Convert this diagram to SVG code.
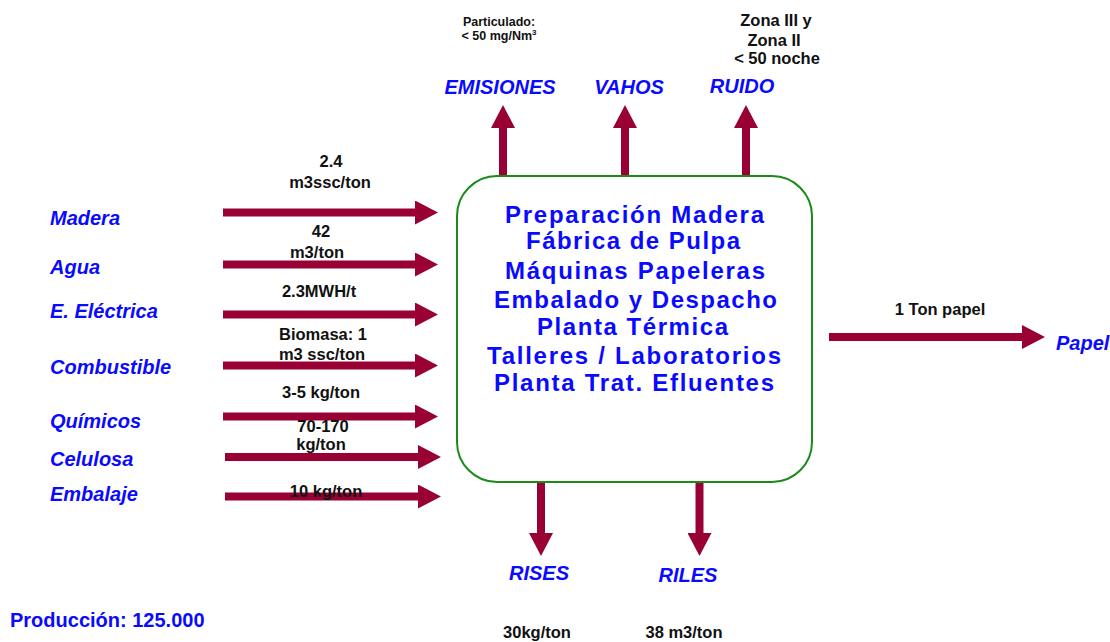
<svg xmlns="http://www.w3.org/2000/svg" width="1110" height="642" viewBox="0 0 1110 642">
<style>
.lbl{font-family:"Liberation Sans",Arial,sans-serif;font-weight:bold;font-style:italic;font-size:20px;fill:#0a0aff}
.val{font-family:"Liberation Sans",Arial,sans-serif;font-weight:bold;font-size:16.5px;fill:#111}
.box{font-family:"Liberation Sans",Arial,sans-serif;font-weight:bold;font-size:24px;fill:#0a0aff}
.prod{font-family:"Liberation Sans",Arial,sans-serif;font-weight:bold;font-size:20px;fill:#0a0aff}
.small{font-family:"Liberation Sans",Arial,sans-serif;font-weight:bold;font-size:12.5px;fill:#111}
.arr{stroke:#990033;stroke-width:8;fill:none;marker-end:url(#head)}
</style>
<defs>
<marker id="head" markerUnits="userSpaceOnUse" markerWidth="23" markerHeight="24" refX="0" refY="12" orient="auto" viewBox="0 0 23 24">
<path d="M0,0 L23,12 L0,24 z" fill="#990033"/>
</marker>
</defs>
<rect width="1110" height="642" fill="#ffffff"/>

<g id="connectors">
<line class="arr" x1="223" y1="212.5" x2="415" y2="212.5"/>
<line class="arr" x1="223" y1="264.5" x2="415" y2="264.5"/>
<line class="arr" x1="223" y1="314.5" x2="415" y2="314.5"/>
<line class="arr" x1="223" y1="365.5" x2="415" y2="365.5"/>
<line class="arr" x1="223" y1="416.5" x2="415" y2="416.5"/>
<line class="arr" x1="225" y1="457" x2="418" y2="457"/>
<line class="arr" x1="225" y1="496.5" x2="418" y2="496.5"/>
<line class="arr" x1="503" y1="177" x2="503" y2="128"/>
<line class="arr" x1="625" y1="177" x2="625" y2="128"/>
<line class="arr" x1="746" y1="177" x2="746" y2="128"/>
<line class="arr" x1="541" y1="481" x2="541" y2="533"/>
<line class="arr" x1="699.5" y1="481" x2="699.5" y2="533"/>
<line class="arr" x1="829" y1="337" x2="1022" y2="337"/>
</g>

<g id="process">
<rect x="457" y="176" width="355" height="306" rx="40" ry="40" fill="#ffffff" stroke="#1a8a1a" stroke-width="2"/>
<text class="box" text-anchor="middle" x="634.5" y="223" textLength="259" lengthAdjust="spacing">Preparación Madera</text>
<text class="box" text-anchor="middle" x="633" y="249" textLength="214" lengthAdjust="spacing">Fábrica de Pulpa</text>
<text class="box" text-anchor="middle" x="635" y="279" textLength="260" lengthAdjust="spacing">Máquinas Papeleras</text>
<text class="box" text-anchor="middle" x="635.5" y="308" textLength="283" lengthAdjust="spacing">Embalado y Despacho</text>
<text class="box" text-anchor="middle" x="632.5" y="335" textLength="191" lengthAdjust="spacing">Planta Térmica</text>
<text class="box" text-anchor="middle" x="634" y="364" textLength="294" lengthAdjust="spacing">Talleres / Laboratorios</text>
<text class="box" text-anchor="middle" x="634" y="391" textLength="280" lengthAdjust="spacing">Planta Trat. Efluentes</text>
</g>

<g id="in-madera">
<text class="lbl" x="50" y="225">Madera</text>
<text class="val" text-anchor="middle" x="331" y="167">2.4</text>
<text class="val" text-anchor="middle" x="330" y="188">m3ssc/ton</text>
</g>
<g id="in-agua">
<text class="lbl" x="50" y="274">Agua</text>
<text class="val" text-anchor="middle" x="321" y="237">42</text>
<text class="val" text-anchor="middle" x="317" y="258">m3/ton</text>
</g>
<g id="in-electrica">
<text class="lbl" x="50" y="318">E. Eléctrica</text>
<text class="val" text-anchor="middle" x="319" y="297">2.3MWH/t</text>
</g>
<g id="in-combustible">
<text class="lbl" x="50" y="374">Combustible</text>
<text class="val" text-anchor="middle" x="323" y="340">Biomasa: 1</text>
<text class="val" text-anchor="middle" x="322" y="360">m3 ssc/ton</text>
</g>
<g id="in-quimicos">
<text class="lbl" x="50" y="428">Químicos</text>
<text class="val" text-anchor="middle" x="321" y="398">3-5 kg/ton</text>
</g>
<g id="in-celulosa">
<text class="lbl" x="50" y="466">Celulosa</text>
<text class="val" text-anchor="middle" x="323" y="432">70-170</text>
<text class="val" text-anchor="middle" x="321" y="450">kg/ton</text>
</g>
<g id="in-embalaje">
<text class="lbl" x="50" y="501">Embalaje</text>
<text class="val" text-anchor="middle" x="326" y="497">10 kg/ton</text>
</g>

<g id="out-emisiones">
<text class="lbl" text-anchor="middle" x="500" y="94">EMISIONES</text>
<text class="small" text-anchor="middle" x="499" y="26">Particulado:</text>
<text class="small" text-anchor="middle" x="499" y="40">&lt; 50 mg/Nm<tspan font-size="8" dy="-5">3</tspan></text>
</g>
<g id="out-vahos">
<text class="lbl" text-anchor="middle" x="629" y="94">VAHOS</text>
</g>
<g id="out-ruido">
<text class="lbl" text-anchor="middle" x="742" y="93">RUIDO</text>
<text class="val" text-anchor="middle" x="776" y="26">Zona III y</text>
<text class="val" text-anchor="middle" x="774" y="46">Zona II</text>
<text class="val" text-anchor="middle" x="777" y="64">&lt; 50 noche</text>
</g>
<g id="out-rises">
<text class="lbl" text-anchor="middle" x="539" y="580">RISES</text>
<text class="val" text-anchor="middle" x="537" y="638">30kg/ton</text>
</g>
<g id="out-riles">
<text class="lbl" text-anchor="middle" x="688" y="582">RILES</text>
<text class="val" text-anchor="middle" x="684" y="638">38 m3/ton</text>
</g>
<g id="out-papel">
<text class="lbl" x="1056" y="350">Papel</text>
<text class="val" text-anchor="middle" x="940" y="315">1 Ton papel</text>
</g>
<g id="produccion">
<text class="prod" x="10" y="627">Producción: 125.000</text>
</g>
</svg>
